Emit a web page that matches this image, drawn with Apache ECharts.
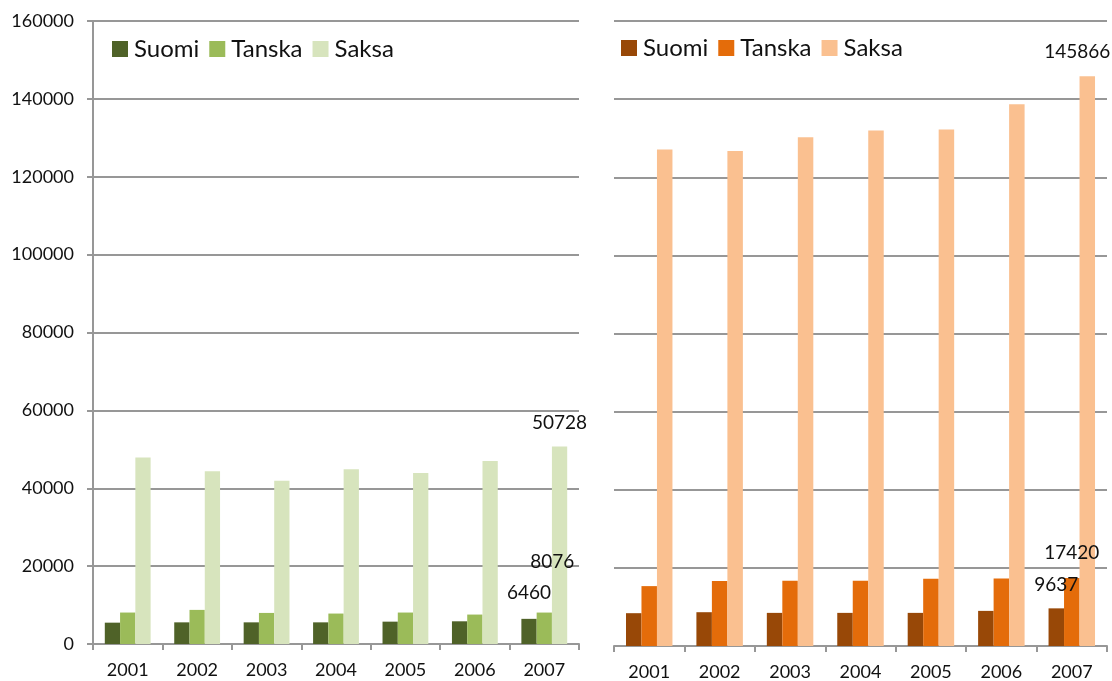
<!DOCTYPE html>
<html>
<head>
<meta charset="utf-8">
<script src="https://cdn.jsdelivr.net/npm/echarts@6/dist/echarts.min.js"></script>
<style>
  html, body { margin: 0; padding: 0; background: #fff; }
  #chart { width: 1112px; height: 681px; }
</style>
</head>
<body>
<div id="chart"></div>
<script>
// vuodet ja sarjat
var years = ['2001', '2002', '2003', '2004', '2005', '2006', '2007'];
var seriesNames = ['Suomi', 'Tanska', 'Saksa'];
var yTicks = [0, 20000, 40000, 60000, 80000, 100000, 120000, 140000, 160000];

// vasen kuva
var leftSuomi = [5480, 5560, 5560, 5560, 5740, 5830, 6460];
var leftTanska = [8080, 8760, 7980, 7820, 8080, 7560, 8076];
var leftSaksa = [47880, 44350, 41950, 44870, 43920, 47020, 50728];

// oikea kuva
var rightSuomi = [8400, 8650, 8480, 8480, 8480, 8990, 9637];
var rightTanska = [15330, 16620, 16700, 16700, 17200, 17300, 17420];
var rightSaksa = [127100, 126700, 130250, 131970, 132230, 138720, 145866];

var leftColors = ['#4f6228', '#9bbb59', '#d7e4bd'];
var rightColors = ['#984807', '#e46c0a', '#fac090'];

var chart = echarts.init(document.getElementById('chart'));
var gray = '#979797';
var font = 'Lato, "Open Sans", sans-serif';

// label only on the last bar
var withLastLabel = function (values, offset) {
  return values.map(function (v, i) {
    if (i !== values.length - 1) return v;
    return {
      value: v,
      label: {
        show: true,
        position: 'top',
        offset: offset,
        color: '#111',
        fontSize: 19,
        fontFamily: font
      }
    };
  });
};

var makeX = function (gridIndex) {
  return {
    type: 'category',
    gridIndex: gridIndex,
    data: years,
    axisLine: { lineStyle: { color: gray, width: 2 } },
    axisTick: { show: true, length: 6, lineStyle: { color: gray, width: 2 } },
    axisLabel: { color: '#111', fontSize: 18, fontFamily: font, margin: 17 }
  };
};

var makeY = function (gridIndex, showLabels) {
  return {
    type: 'value',
    gridIndex: gridIndex,
    min: yTicks[0],
    max: yTicks[yTicks.length - 1],
    interval: yTicks[1] - yTicks[0],
    axisLine: { show: showLabels, lineStyle: { color: gray, width: 2 } },
    axisTick: { show: showLabels, length: 6, lineStyle: { color: gray, width: 2 } },
    axisLabel: {
      show: showLabels, color: '#111', fontSize: 18, fontFamily: font, margin: 19,
      formatter: function (v) { return String(v); }
    },
    splitLine: { lineStyle: { color: gray, width: 2 } }
  };
};

var barSeries = function (name, idx, data, color) {
  return {
    name: name,
    type: 'bar',
    xAxisIndex: idx,
    yAxisIndex: idx,
    data: data,
    barGap: 0,
    barCategoryGap: '34%',
    itemStyle: { color: color },
    emphasis: { disabled: true }
  };
};

var legendStyle = {
  itemWidth: 16,
  itemHeight: 16,
  itemGap: 10,
  icon: 'rect',
  formatter: function (name) { return name.trim(); },
  textStyle: { fontSize: 24, fontFamily: font, color: '#111', padding: [0, 0, 0, 1] }
};

var legendData = function (suffix, colors) {
  return seriesNames.map(function (n, i) {
    return { name: n + suffix, itemStyle: { color: colors[i] } };
  });
};

chart.setOption({
  animation: false,
  grid: [
    { left: 93, top: 21, width: 486, height: 623 },
    { left: 614, top: 21, width: 493, height: 626 }
  ],
  legend: [
    Object.assign({ left: 107, top: 32 }, legendStyle, { data: legendData('', leftColors) }),
    Object.assign({ left: 616, top: 31 }, legendStyle, { data: legendData(' ', rightColors) })
  ],
  xAxis: [makeX(0), makeX(1)],
  yAxis: [makeY(0, true), makeY(1, false)],
  series: [
    barSeries('Suomi', 0, withLastLabel(leftSuomi, [0, -11]), leftColors[0]),
    barSeries('Tanska', 0, withLastLabel(leftTanska, [8, -36]), leftColors[1]),
    barSeries('Saksa', 0, withLastLabel(leftSaksa, [0, -9]), leftColors[2]),
    barSeries('Suomi ', 1, withLastLabel(rightSuomi, [0, -9]), rightColors[0]),
    barSeries('Tanska ', 1, withLastLabel(rightTanska, [0, -11]), rightColors[1]),
    barSeries('Saksa ', 1, withLastLabel(rightSaksa, [-10, -10]), rightColors[2])
  ]
});
</script>
</body>
</html>
